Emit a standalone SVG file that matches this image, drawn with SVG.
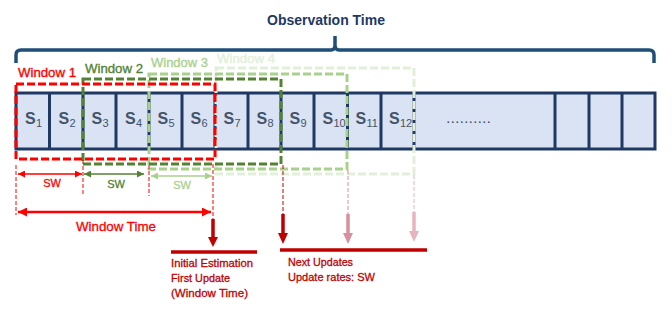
<svg xmlns="http://www.w3.org/2000/svg" width="672" height="315" viewBox="0 0 672 315">
<style>
text{font-family:"Liberation Sans",Arial,sans-serif}
.cell{fill:#DAE3F3;stroke:#1F3864;stroke-width:3}
.s{font-size:16px;font-weight:bold;fill:#44546A}
.sub{font-size:11px;fill:#44546A}
.win{fill:none;stroke-width:3;stroke-dasharray:8 3}
.wl{font-size:13px;stroke-width:0.35}
.vd{stroke-width:1;stroke-dasharray:4 2;fill:none}
.sw{font-size:11px;text-anchor:middle;stroke-width:0.3}
.dr{fill:#C00000;stroke:#C00000;stroke-width:0.3;font-size:11.5px}
</style>
<defs>
<marker id="mr" viewBox="0 0 10 10" refX="10" refY="5" markerWidth="7" markerHeight="7" markerUnits="userSpaceOnUse" orient="auto-start-reverse"><path d="M0,0 L10,5 L0,10 z" fill="#FF0000"/></marker>
<marker id="mg" viewBox="0 0 10 10" refX="10" refY="5" markerWidth="7" markerHeight="7" markerUnits="userSpaceOnUse" orient="auto-start-reverse"><path d="M0,0 L10,5 L0,10 z" fill="#548235"/></marker>
<marker id="ml" viewBox="0 0 10 10" refX="10" refY="5" markerWidth="7" markerHeight="7" markerUnits="userSpaceOnUse" orient="auto-start-reverse"><path d="M0,0 L10,5 L0,10 z" fill="#A9D18E"/></marker>
<marker id="mw" viewBox="0 0 10 10" refX="10" refY="5" markerWidth="10" markerHeight="9" markerUnits="userSpaceOnUse" orient="auto-start-reverse"><path d="M0,0 L10,5 L0,10 z" fill="#FF0000"/></marker>
</defs>

<g id="title">
<text x="267" y="25" font-size="14" font-weight="bold" fill="#1F3864" textLength="118" lengthAdjust="spacingAndGlyphs">Observation Time</text>
<path d="M16,63 V55 Q16,50 21,50 H331 Q335,50 335,45 V36 M335,45 Q335,50 339,50 H649 Q654,50 654,55 V63" fill="none" stroke="#1F4E79" stroke-width="3.5"/>
</g>

<g id="bar">
<rect class="cell" x="16" y="93" width="639" height="56"/>
<path d="M49.5,93V149M83,93V149M116,93V149M149,93V149M182,93V149M215,93V149M248,93V149M281,93V149M314,93V149M347.5,93V149M381,93V149M414,93V149M555,93V149M589,93V149M622,93V149" stroke="#1F3864" stroke-width="3" fill="none"/>
<text class="s" x="25" y="124">S</text><text class="sub" x="36" y="127">1</text>
<text class="s" x="58.5" y="124">S</text><text class="sub" x="69.5" y="127">2</text>
<text class="s" x="91.5" y="124">S</text><text class="sub" x="102.5" y="127">3</text>
<text class="s" x="125" y="124">S</text><text class="sub" x="136" y="127">4</text>
<text class="s" x="157.5" y="124">S</text><text class="sub" x="168.5" y="127">5</text>
<text class="s" x="190.5" y="124">S</text><text class="sub" x="201.5" y="127">6</text>
<text class="s" x="223.5" y="124">S</text><text class="sub" x="234.5" y="127">7</text>
<text class="s" x="256.5" y="124">S</text><text class="sub" x="267.5" y="127">8</text>
<text class="s" x="289.5" y="124">S</text><text class="sub" x="300.5" y="127">9</text>
<text class="s" x="322.5" y="124">S</text><text class="sub" x="333.5" y="127">10</text>
<text class="s" x="355.5" y="124">S</text><text class="sub" x="366.5" y="127">11</text>
<text class="s" x="389" y="124">S</text><text class="sub" x="400" y="127">12</text>
<text x="446" y="123" font-size="14" fill="#44546A" textLength="45" lengthAdjust="spacingAndGlyphs">..........</text>
</g>

<g id="window4">
<rect class="win" x="216" y="68" width="198" height="106" stroke="#E2F0D9"/>
<text class="wl" x="217" y="63" fill="#E2F0D9" stroke="#E2F0D9" textLength="58" lengthAdjust="spacingAndGlyphs">Window 4</text>
</g>
<g id="window3">
<rect class="win" x="149" y="74" width="198" height="95" stroke="#A9D18E"/>
<text class="wl" x="151" y="67" fill="#A9D18E" stroke="#A9D18E" textLength="57" lengthAdjust="spacingAndGlyphs">Window 3</text>
</g>
<g id="window2">
<rect class="win" x="83" y="79" width="198" height="85" stroke="#548235"/>
<text class="wl" x="85" y="73" fill="#548235" stroke="#548235" textLength="58" lengthAdjust="spacingAndGlyphs">Window 2</text>
</g>
<g id="window1">
<rect class="win" x="16" y="84" width="199" height="75" stroke="#FF0000"/>
<text class="wl" x="18" y="77" fill="#FF0000" stroke="#FF0000" textLength="58" lengthAdjust="spacingAndGlyphs">Window 1</text>
</g>

<g id="connectors">
<path class="vd" stroke="#FF0000" d="M16,165V215M83,160V196M149,165V196M213,164V219"/>
<path class="vd" stroke="#C00000" d="M283,165V214"/>
<path class="vd" stroke="#D88FA0" d="M348,170V214"/>
<path class="vd" stroke="#E8B4BE" d="M414,175V212"/>
<line x1="18" y1="174" x2="82" y2="174" stroke="#FF0000" stroke-width="1.5" marker-start="url(#mr)" marker-end="url(#mr)"/>
<line x1="84" y1="174" x2="144" y2="174" stroke="#548235" stroke-width="1.5" marker-start="url(#mg)" marker-end="url(#mg)"/>
<line x1="151" y1="176" x2="212" y2="176" stroke="#A9D18E" stroke-width="1.5" marker-start="url(#ml)" marker-end="url(#ml)"/>
<line x1="18" y1="212" x2="211" y2="212" stroke="#FF0000" stroke-width="2.5" marker-start="url(#mw)" marker-end="url(#mw)"/>
<path d="M213,219V238" stroke="#C00000" stroke-width="3.5"/><path d="M208,237H218L213,247Z" fill="#C00000"/>
<path d="M283,214V234" stroke="#C00000" stroke-width="3.5"/><path d="M278,233H288L283,244Z" fill="#C00000"/>
<path d="M348,214V234" stroke="#D88FA0" stroke-width="3.5"/><path d="M343,233H353L348,244Z" fill="#D88FA0"/>
<path d="M414,212V232" stroke="#E8B4BE" stroke-width="3.5"/><path d="M409,231H419L414,242Z" fill="#E8B4BE"/>
<path d="M171,252H257" stroke="#C00000" stroke-width="3.5"/>
<path d="M280,250H427" stroke="#C00000" stroke-width="3.5"/>
</g>

<g id="labels">
<text class="sw" x="52" y="187" fill="#FF0000" stroke="#FF0000">SW</text>
<text class="sw" x="116" y="188" fill="#548235" stroke="#548235">SW</text>
<text class="sw" x="182" y="189" fill="#A9D18E" stroke="#A9D18E">SW</text>
<text x="76" y="231" font-size="13" fill="#FF0000" stroke="#FF0000" stroke-width="0.3" textLength="80" lengthAdjust="spacingAndGlyphs">Window Time</text>
<text class="dr" x="171" y="267" textLength="82" lengthAdjust="spacingAndGlyphs">Initial Estimation</text>
<text class="dr" x="171" y="282" textLength="59" lengthAdjust="spacingAndGlyphs">First Update</text>
<text class="dr" x="171" y="297" textLength="77" lengthAdjust="spacingAndGlyphs">(Window Time)</text>
<text class="dr" x="288" y="266" textLength="65" lengthAdjust="spacingAndGlyphs">Next Updates</text>
<text class="dr" x="288" y="281" textLength="87" lengthAdjust="spacingAndGlyphs">Update rates: SW</text>
</g>
</svg>
